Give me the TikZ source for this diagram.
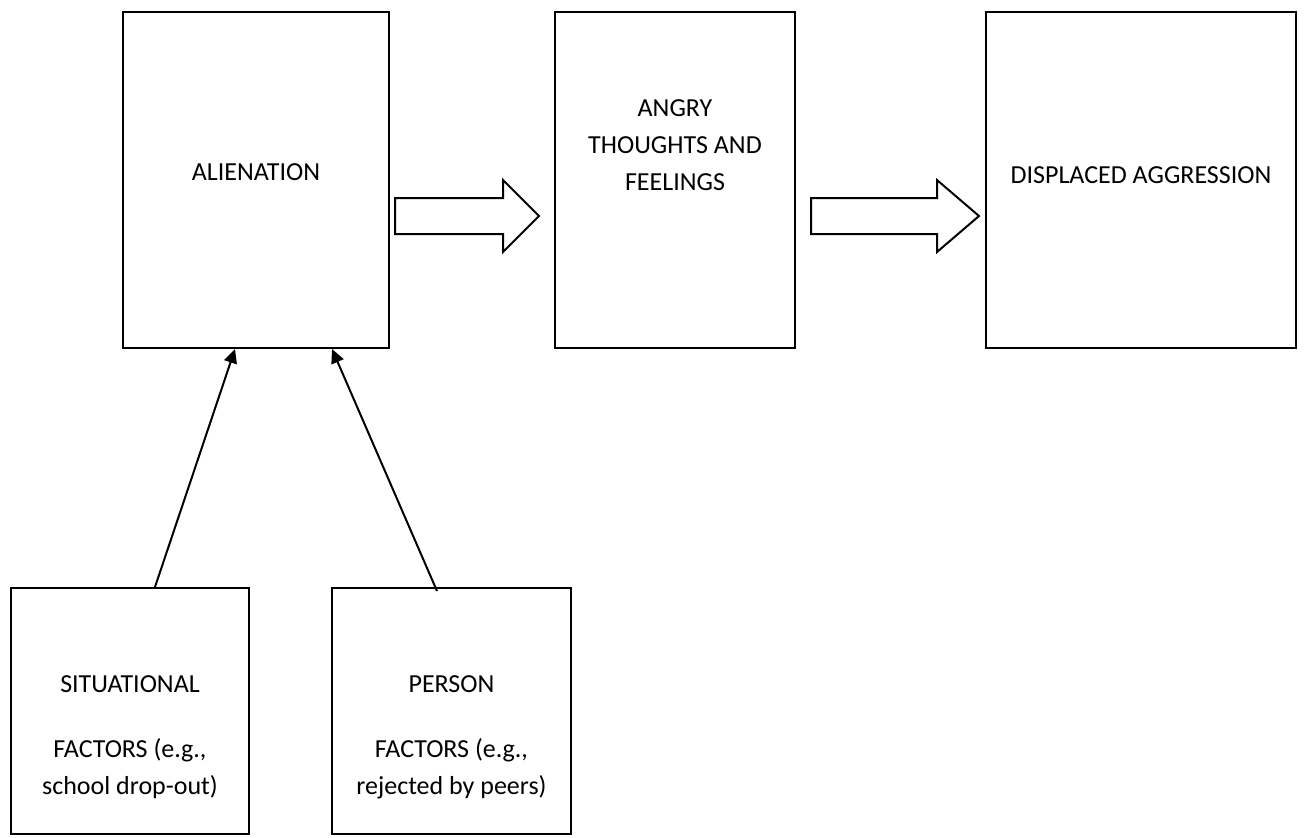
\documentclass[tikz,border=0pt]{standalone}
\usepackage{fontspec}
\setmainfont{Carlito}
\usetikzlibrary{arrows.meta,positioning}
\tikzstyle{box} = [rectangle, draw, line width=1pt, inner sep=0pt]
\tikzstyle{boxtext} = [align=center, inner sep=0pt, font=\fontsize{13}{18.5}\selectfont]
\tikzstyle{arrow} = [line width=1pt, -{Triangle[length=7pt,width=6.5pt]}]
\tikzstyle{bigarrow} = [draw, line width=1pt, fill=white, line join=miter]

\begin{document}
\begin{tikzpicture}[x=0.5pt, y=-0.5pt]
\useasboundingbox (0,0) rectangle (1306,837);
% Top row of boxes
\node[box, minimum width=133pt, minimum height=168pt] (alienation) at (256,180) {};
\node[box, minimum width=120pt, minimum height=168pt] (angry) at (675,180) {};
\node[box, minimum width=155pt, minimum height=168pt] (displaced) at (1141,180) {};

% Factor boxes
\node[box, minimum width=119pt, minimum height=123pt] (situational) at (130,711) {};
\node[box, minimum width=119.5pt, minimum height=123pt] (person) at (451.5,711) {};

% Texts
\node[boxtext, anchor=base] (alienationtext) at (256,180) {ALIENATION};
\node[boxtext] (angrytext) at (675,145) {ANGRY\\THOUGHTS AND\\FEELINGS};
\node[boxtext, anchor=base] (displacedtext) at (1141,183) {DISPLACED AGGRESSION};
\node[boxtext] (situationaltext) at (130,737) {SITUATIONAL\\[14pt]FACTORS (e.g.,\\school drop-out)};
\node[boxtext] (persontext) at (451.5,737) {PERSON\\[14pt]FACTORS (e.g.,\\rejected by peers)};

% Block arrows
\draw[bigarrow] (395,198) -- (503,198) -- (503,180) -- (539,216) -- (503,252) -- (503,234) -- (395,234) -- cycle;
\draw[bigarrow] (811,198) -- (937,198) -- (937,180) -- (979,216) -- (937,252) -- (937,234) -- (811,234) -- cycle;

% Arrows into alienation
\draw[arrow] ([xshift=12.5pt]situational.north) -- ([xshift=-10.5pt]alienation.south);
\draw[arrow] ([xshift=-7.25pt, yshift=-2pt]person.north) -- ([xshift=38pt]alienation.south);
\end{tikzpicture}
\end{document}
